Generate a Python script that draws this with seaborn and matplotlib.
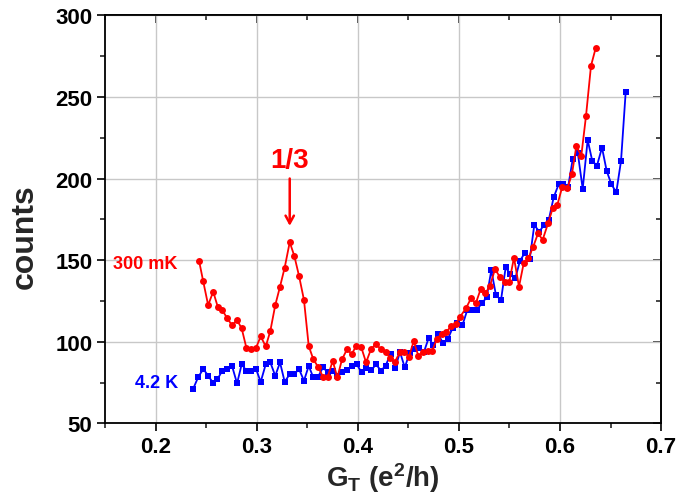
import numpy as np
import pandas as pd
import matplotlib
matplotlib.use("Agg")
import matplotlib.pyplot as plt
from matplotlib.ticker import MultipleLocator
import seaborn as sns

# ---- data -------------------------------------------------------------
gt_300mk = [
    0.243, 0.247, 0.252, 0.257, 0.2615, 0.266, 0.271, 0.2756, 0.2806, 0.2852,
    0.2898, 0.2947, 0.2994, 0.304, 0.309, 0.3135, 0.3184, 0.3231, 0.3277, 0.3327,
    0.3372, 0.3419, 0.3468, 0.3515, 0.356, 0.3607, 0.3656, 0.3703, 0.3752, 0.3798,
    0.3844, 0.3894, 0.394, 0.3986, 0.4035, 0.4082, 0.4131, 0.4178, 0.423, 0.4276,
    0.4322, 0.4368, 0.4415, 0.446, 0.4507, 0.4553, 0.4599, 0.4645, 0.4692, 0.4737,
    0.4784, 0.483, 0.4876, 0.4922, 0.4969, 0.5014, 0.507, 0.512, 0.5167, 0.5216,
    0.5262, 0.5308, 0.5358, 0.5407, 0.5454, 0.5499, 0.5545, 0.5595, 0.5641, 0.5687,
    0.5736, 0.5783, 0.5829, 0.5882, 0.5928, 0.5974, 0.6023, 0.6073, 0.6119, 0.6162,
    0.6211, 0.6258, 0.6307, 0.6354,
]
counts_300mk = [
    149.7, 137.4, 122.5, 130.7, 121.5, 119.4, 114.3, 110.2, 113.3, 108.2,
    96.4, 95.5, 96.4, 103.3, 97.2, 106.6, 122.5, 133.8, 145.4, 161.0,
    152.7, 140.4, 125.6, 97.4, 89.4, 84.7, 78.6, 78.6, 88.4, 78.2,
    89.2, 95.5, 92.5, 97.6, 96.6, 87.4, 95.5, 98.6, 95.5, 93.9,
    90.0, 87.8, 93.5, 93.5, 91.0, 100.4, 91.5, 93.5, 94.3, 94.5,
    102.0, 105.0, 106.0, 109.5, 111.0, 115.5, 120.5, 126.6, 123.5, 132.3,
    129.7, 134.3, 144.6, 139.5, 136.8, 136.8, 151.5, 133.8, 148.0, 151.1,
    158.3, 166.4, 162.5, 172.5, 181.7, 183.8, 195.0, 194.0, 202.8, 219.9,
    213.8, 238.5, 269.0, 280.0,
]

gt_4k = [
    0.2373, 0.2423, 0.2472, 0.2522, 0.2565, 0.2611, 0.266, 0.2707, 0.2756, 0.2806,
    0.2852, 0.2898, 0.2947, 0.2994, 0.304, 0.309, 0.3135, 0.3184, 0.3231, 0.3277,
    0.3327, 0.3372, 0.3419, 0.3468, 0.3515, 0.356, 0.3607, 0.3656, 0.3703, 0.3752,
    0.3798, 0.3844, 0.3891, 0.394, 0.3988, 0.4037, 0.4085, 0.4134, 0.418, 0.423,
    0.4276, 0.4324, 0.4371, 0.4418, 0.4465, 0.4513, 0.4561, 0.4608, 0.4653, 0.4702,
    0.4747, 0.4797, 0.4845, 0.4891, 0.4939, 0.4985, 0.5036, 0.5083, 0.513, 0.5176,
    0.5226, 0.5275, 0.5321, 0.5367, 0.5417, 0.5463, 0.5509, 0.5558, 0.5605, 0.5654,
    0.5701, 0.5746, 0.5796, 0.5842, 0.5889, 0.5938, 0.5988, 0.6033, 0.608, 0.6126,
    0.6176, 0.6225, 0.6274, 0.632, 0.6366, 0.6416, 0.6462, 0.6508, 0.6557, 0.6604,
    0.665,
]
counts_4k = [
    71.4, 78.6, 83.3, 79.2, 75.1, 77.0, 82.3, 83.3, 85.3, 74.5,
    86.3, 82.3, 82.3, 83.3, 75.5, 86.3, 87.4, 79.2, 87.4, 75.5,
    80.2, 80.2, 83.3, 76.2, 85.3, 78.2, 78.6, 84.3, 81.3, 82.3,
    79.0, 81.3, 82.5, 85.0, 86.5, 81.3, 83.7, 82.5, 86.3, 82.3,
    85.5, 92.4, 84.2, 93.7, 84.3, 93.2, 95.5, 96.0, 93.5, 102.5,
    97.8, 104.5, 99.0, 101.7, 108.6, 111.6, 110.3, 119.4, 119.4, 119.4,
    123.5, 127.2, 143.9, 128.6, 125.6, 145.6, 141.5, 138.8, 149.7, 154.6,
    150.7, 171.5, 167.5, 171.5, 174.6, 188.5, 196.6, 196.6, 194.6, 211.8,
    215.9, 193.6, 223.6, 210.7, 207.9, 218.9, 204.7, 196.6, 191.5, 210.7,
    252.8,
]

x_ticks = [0.2, 0.3, 0.4, 0.5, 0.6, 0.7]
y_ticks = [50, 100, 150, 200, 250, 300]
peak_label = "1/3"
peak_gt = 0.3327
peak_counts = 161.0

# ---- style ------------------------------------------------------------
sns.set_style("ticks")
plt.rcParams["font.family"] = ["Liberation Sans", "DejaVu Sans"]
plt.rcParams["font.weight"] = "bold"
plt.rcParams["mathtext.fontset"] = "custom"
plt.rcParams["mathtext.rm"] = "Liberation Sans:bold"
plt.rcParams["mathtext.bf"] = "Liberation Sans:bold"
plt.rcParams["mathtext.it"] = "Liberation Sans:bold"
plt.rcParams["mathtext.default"] = "bf"

RED = "#ff0000"
BLUE = "#0000ff"

df_cold = pd.DataFrame({"gt": gt_300mk, "counts": counts_300mk})
df_warm = pd.DataFrame({"gt": gt_4k, "counts": counts_4k})

fig = plt.figure(figsize=(6.78, 5.02), dpi=100)
ax = fig.add_axes([0.1549, 0.1544, 0.975 - 0.1549, 0.9677 - 0.1544])

sns.lineplot(data=df_warm, x="gt", y="counts", ax=ax, color=BLUE,
             marker="s", markersize=4.4, markeredgewidth=0, linewidth=1.3,
             sort=False, estimator=None, zorder=3)
sns.lineplot(data=df_cold, x="gt", y="counts", ax=ax, color=RED,
             marker="o", markersize=5.0, markeredgewidth=0, linewidth=1.3,
             sort=False, estimator=None, zorder=4)

ax.set_xlim(0.15, 0.7)
ax.set_ylim(50, 300)
ax.xaxis.set_major_locator(MultipleLocator(0.1))
ax.xaxis.set_minor_locator(MultipleLocator(0.05))
ax.yaxis.set_major_locator(MultipleLocator(50))
ax.yaxis.set_minor_locator(MultipleLocator(25))
ax.set_xticks(x_ticks)
ax.set_xticklabels([f"{v:.1f}" for v in x_ticks])
ax.set_yticks(y_ticks)
ax.set_yticklabels([str(v) for v in y_ticks])

ax.grid(True, which="major", color="#c8c8c8", linewidth=1.0, zorder=0)
ax.set_axisbelow(True)

for s in ax.spines.values():
    s.set_linewidth(1.3)
    s.set_color("black")

ax.tick_params(axis="both", which="major", direction="out", length=6,
               width=1.2, labelsize=16, pad=3, colors="black")
ax.tick_params(axis="both", which="minor", direction="out", length=3.5,
               width=1.2)
for lab in ax.get_xticklabels() + ax.get_yticklabels():
    lab.set_fontweight("bold")

# inward ticks on the top and right edges
top = ax.secondary_xaxis("top")
top.xaxis.set_major_locator(MultipleLocator(0.1))
top.xaxis.set_minor_locator(MultipleLocator(0.05))
top.tick_params(which="major", direction="in", length=6, width=1.2,
                labeltop=False)
top.tick_params(which="minor", direction="in", length=3.5, width=1.2)
right = ax.secondary_yaxis("right")
right.yaxis.set_major_locator(MultipleLocator(50))
right.yaxis.set_minor_locator(MultipleLocator(25))
right.tick_params(which="major", direction="in", length=6, width=1.2,
                  labelright=False)
right.tick_params(which="minor", direction="in", length=3.5, width=1.2)
for sec in (top, right):
    for s in sec.spines.values():
        s.set_linewidth(1.3)

ax.set_xlabel(r"$G_T\ (e^2/h)$", fontsize=20, labelpad=2)
ax.set_ylabel("counts", fontsize=23, fontweight="bold")
ax.yaxis.set_label_coords(-0.118, 0.461)

# series labels
ax.text(0.2212, 148, "300 mK", color=RED, fontsize=13, fontweight="bold",
        ha="right", va="center")
ax.text(0.2222, 75, "4.2 K", color=BLUE, fontsize=13, fontweight="bold",
        ha="right", va="center")

# peak marker
ax.annotate("", xy=(peak_gt, peak_counts + 10), xytext=(peak_gt, 200),
            arrowprops=dict(arrowstyle="->,head_length=0.55,head_width=0.3",
                            color=RED, lw=1.8, shrinkA=0, shrinkB=0))
ax.text(peak_gt, 207, peak_label, color=RED, fontsize=20, fontweight="bold",
        ha="center", va="baseline")

fig.savefig("out.png", dpi=100)
